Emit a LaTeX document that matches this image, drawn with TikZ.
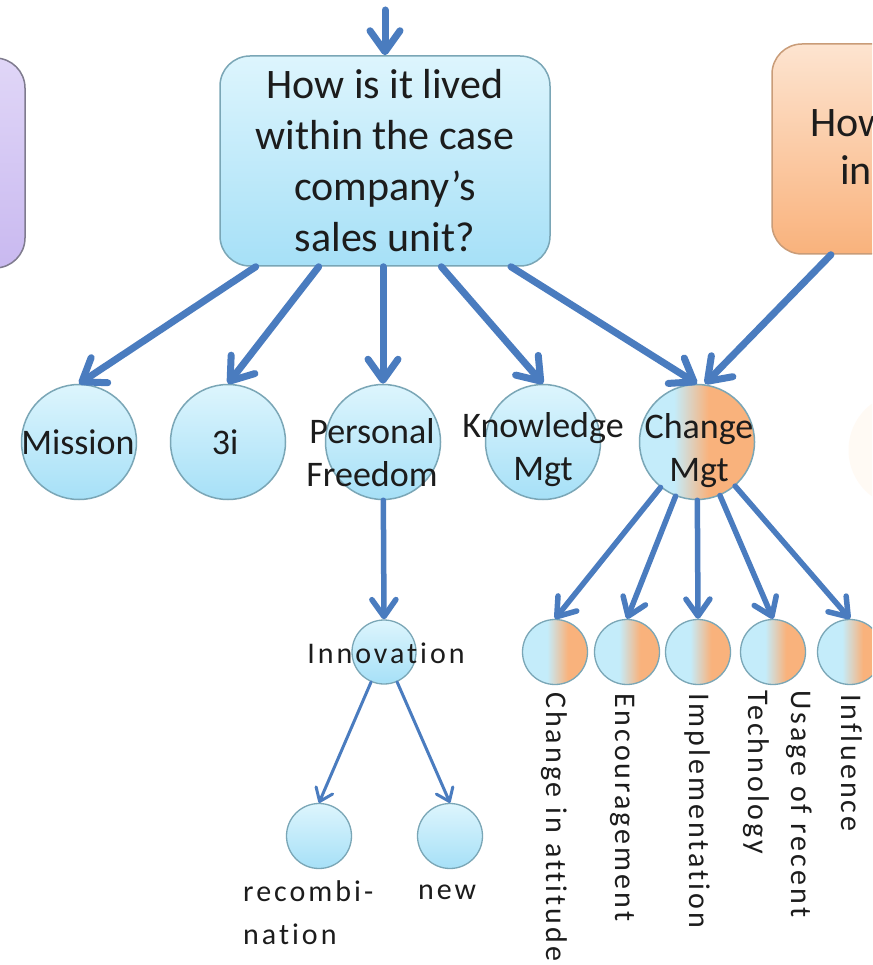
\documentclass[tikz,border=0pt]{standalone}
\usepackage{fontspec}
\setmainfont{Carlito}[Ligatures=NoCommon]
\newfontfamily\spacedfont[LetterSpace=10,Ligatures=NoCommon]{Carlito}
\usetikzlibrary{arrows.meta,calc}

\definecolor{flowblue}{HTML}{4A7CBF}
\definecolor{skyTop}{HTML}{DDF5FD}
\definecolor{skyBot}{HTML}{A6E0F7}
\definecolor{skyMid}{HTML}{C4ECFA}
\definecolor{skyEdge}{HTML}{7AA6B6}
\definecolor{peach}{HTML}{F9B27C}
\definecolor{peachTop}{HTML}{FDE4D0}
\definecolor{peachEdge}{HTML}{C99C78}
\definecolor{lilacTop}{HTML}{E0D6F7}
\definecolor{lilacBot}{HTML}{C9B9F0}
\definecolor{lilacEdge}{HTML}{7F7B8E}
\definecolor{ghost}{HTML}{FFFAF4}
\definecolor{ink}{HTML}{1C1C1C}

% cyan-to-orange blends (the path spans 25bp..75bp of the shading)
\pgfdeclarehorizontalshading{bigmix}{100bp}{color(0bp)=(skyMid); color(40bp)=(skyMid); color(55bp)=(peach); color(100bp)=(peach)}
\pgfdeclarehorizontalshading{smallmix}{100bp}{color(0bp)=(skyMid); color(44bp)=(skyMid); color(60bp)=(peach); color(100bp)=(peach)}

\newcommand{\qtextsize}{\fontsize{42}{51}\selectfont}
\newcommand{\ctextsize}{\fontsize{36}{43}\selectfont}
\newcommand{\ttextsize}{\spacedfont\fontsize{30}{43}\selectfont}

\begin{document}
\begin{tikzpicture}[x=1pt, y=-1pt,
  every node/.style={text=ink, inner sep=0pt},
  qbox/.style={draw=skyEdge, line width=1.5pt, rounded corners=30pt,
    minimum width=330pt, minimum height=210pt, align=center,
    top color=skyTop, bottom color=skyBot, font=\qtextsize},
  sidebox/.style={line width=1.5pt, rounded corners=30pt,
    minimum width=330pt, minimum height=210pt},
  bigdot/.style={circle, draw=skyEdge, line width=1.5pt, minimum size=115pt,
    top color=skyTop, bottom color=skyBot},
  dotlabel/.style={font=\ctextsize, align=center},
  smalldot/.style={circle, draw=skyEdge, line width=1.3pt, minimum size=65pt,
    top color=skyTop, bottom color=skyBot},
  mixdot/.style={circle, draw=skyEdge, line width=1.3pt, minimum size=65pt,
    shade, shading=smallmix},
  tag/.style={font=\ttextsize, align=left},
  heavy link/.style={draw=flowblue, line width=7pt, line cap=round,
    -{Straight Barb[length=21pt, width=30pt, round]}},
  mid link/.style={draw=flowblue, line width=5.5pt, line cap=round,
    -{Straight Barb[length=17pt, width=24pt, round]}},
  fine link/.style={draw=flowblue, line width=3pt, line cap=round,
    -{Straight Barb[length=12pt, width=18pt, round]}}
]
\clip (0,0) rectangle (872,965);
\fill[white] (0,0) rectangle (872,965);

% neighbouring question boxes
\node[sidebox, draw=lilacEdge, top color=lilacTop, bottom color=lilacBot] (lilac) at (-140,163) {};
\node[sidebox, draw=peachEdge, top color=peachTop, bottom color=peach] (peachbox) at (937,149) {};
\node[anchor=base west, font=\qtextsize] (howword) at (810,137) {How};
\node[anchor=base west, font=\qtextsize] (inword) at (840,185) {in};

% central question
\node[qbox] (q) at (385,161) {How is it lived\\within the case\\company’s\\sales unit?};
\coordinate (feed) at (385,10);

% first level
\node[bigdot] (mission) at (79,442) {};
\node[bigdot] (three) at (228,442) {};
\node[bigdot] (pf) at (383,442) {};
\node[bigdot] (km) at (543,442) {};
\node[bigdot, shade, shading=bigmix] (cm) at (697,442) {};
\node[circle, minimum size=115pt, fill=ghost] (faded) at (906,450) {};
\node[dotlabel] (missionlbl) at (78,442) {Mission};
\node[dotlabel] (threelbl) at (225,442) {3i};
\node[dotlabel] (pflbl) at (372,453) {Personal\\Freedom};
\node[dotlabel] (kmlbl) at (543,450) {Knowledge\\Mgt};
\node[dotlabel] (cmlbl) at (699,451) {Change\\Mgt};

% innovation branch
\node[smalldot, minimum size=64pt] (innov) at (384,652) {};
\node[tag] (innovlbl) at (386,653) {Innovation};
\node[smalldot] (recomb) at (319,836) {};
\node[smalldot] (newdot) at (450,836) {};
\node[tag, anchor=north west] (recomblbl) at (243,880) {recombi-\\nation};
\node[tag, anchor=base west] (newlbl) at (418,899) {new};

% change management branch
\node[mixdot] (c1) at (555,652) {};
\node[mixdot] (c2) at (627,652) {};
\node[mixdot] (c3) at (698,652) {};
\node[mixdot] (c4) at (773,652) {};
\node[mixdot] (c5) at (850,652) {};
\node[tag, rotate=-90, anchor=west] (c1lbl) at (554,692) {Change in attitude};
\node[tag, rotate=-90, anchor=west] (c2lbl) at (623,693) {Encouragement};
\node[tag, rotate=-90, anchor=west] (c3lbl) at (697,693) {Implementation};
\node[tag, rotate=-90, anchor=west] (c4lbl) at (778,690) {Usage of recent\\Technology};
\node[tag, rotate=-90, anchor=west] (c5lbl) at (852,694) {Influence};

% connectors
\draw[heavy link] (feed) -- (q.north);
\draw[heavy link] ($(q.south west)!0.11!(q.south east)$) -- (mission.north);
\draw[heavy link] ($(q.south west)!0.30!(q.south east)$) -- (three.north);
\draw[heavy link] (q.south -| pf.north) -- (pf.north);
\draw[heavy link] ($(q.south west)!0.67!(q.south east)$) -- (km.north);
\draw[heavy link] ($(q.south west)!0.88!(q.south east)$) -- (cm.north);
\draw[heavy link] ($(peachbox.south west)!0.18!(peachbox.south east)$) -- ([xshift=8pt]cm.north);

\draw[mid link] (pf) -- (innov.north);
\draw[fine link] (innov) -- (recomb.north);
\draw[fine link] (innov) -- (newdot.north);

\draw[mid link] (cm) -- (c1.north);
\draw[mid link] (cm) -- (c2.north);
\draw[mid link] (cm) -- (c3.north);
\draw[mid link] (cm) -- (c4.north);
\draw[mid link] (cm) -- (c5.north);
\end{tikzpicture}
\end{document}
